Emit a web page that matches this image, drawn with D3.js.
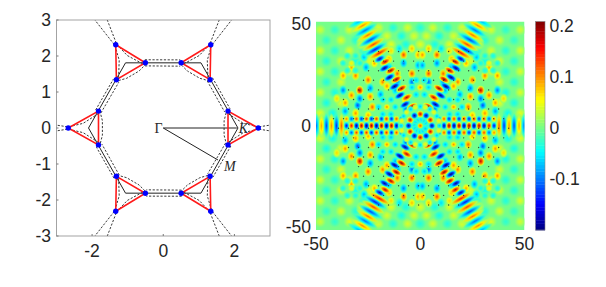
<!DOCTYPE html>
<html>
<head>
<meta charset="utf-8">
<script src="https://cdn.jsdelivr.net/npm/d3@7/dist/d3.min.js"></script>
<style>
body { margin: 0; background: #fff; }
text { font-family: "Liberation Sans", sans-serif; fill: #262626; }
</style>
</head>
<body>
<svg id="chart" width="606" height="287"></svg>
<script>
// left panel: band structure points, one sector, the rest rotated
var tickLeftX = [-2, 0, 2]
var tickLeftY = [-3, -2, -1, 0, 1, 2, 3]
var tipX = [-2.67, -1.82, -1.82]
var tipY = [0, 0.47, -0.47]
var hexX = [-2.1, -1.06, 1.06, 2.1, 1.06, -1.06]
var hexY = [0, 1.81, 1.81, 0, -1.81, -1.81]
var dashCurves = [
  [[-3.6, 0.17], [-3, 0.08], [-2.67, 0.03], [-2.25, 0.13], [-1.82, 0.4]],
  [[-3.6, -0.17], [-3, -0.08], [-2.67, -0.03], [-2.25, -0.13], [-1.82, -0.4]],
  [[-1.78, 0.47], [-1.71, 0.2], [-1.71, -0.2], [-1.78, -0.47]],
  [[-1.9, 0.5], [-1.4, 1.36]],
  [[-1.75, 0.42], [-1.25, 1.27]]
]
var gammaPath = [[0, 0], [2.07, 0]]
var mPath = [[0, 0], [1.54, -0.89]]

// right panel: blobs of the map, upper left quadrant, mirrored when drawn
var tickMapX = [-50, 0, 50]
var tickMapY = [-50, 0, 50]
var tickBar = [-0.1, 0, 0.1, 0.2]
var softX = [-48,-41,-34,-27, -45,-38,-31, -48,-41,-34,-27, -45,-38,-31,-24, -48,-41,-34, -45,-38, -48,-41, -45,-38, -48,-42, -20,-13,-6,0, -23,-16,-9,-3, -28,-21,-14,-7,0]
var softY = [46,46,46,46, 41,41,41, 36,36,36,36, 31,31,31,31, 26,26,26, 21,21, 16,16, 11,11, 6,6, 47,47,47,47, 43,43,43,43, 39,39,39,39,39]
var softV = [0.035,-0.03,0.04,-0.035, -0.03,0.04,-0.035, 0.04,-0.035,0.04,-0.04, -0.035,0.04,-0.04,0.045, 0.04,-0.035,0.04, -0.035,0.04, 0.04,-0.04, -0.04,0.045, 0.045,-0.045, 0.04,-0.035,0.04,-0.035, -0.04,0.04,-0.04,0.04, 0.04,-0.05,0.045,-0.04,0.045]
var innerX = [-8,-8,-1,-1,-15,-15,-22,-4,-11,-4,-11,-7,-7,-18,-25,-29,-33,-30,-36,-29,-24,-24,-37,-31,-23,-19,-16,-12,-26,-33,-37,-20,-27,-40,-36,-31,-25,-4,-10,-14]
var innerY = [34,30,34,29,32,28,30,25,25,21,21,12,8,21,22,17,14.6,9.8,11,13,14,18,17,24,9,15,19,17,28,28,24,33,33,13,7,6,5,37,37,36]
var innerV = [0.13,-0.1,0.1,-0.09,0.1,-0.09,0.09,0.13,0.12,-0.11,-0.1,0.1,-0.1,0.11,0.12,0.18,0.11,-0.12,0.1,-0.11,0.11,-0.1,-0.1,0.11,0.12,-0.09,0.1,-0.08,-0.09,0.09,0.1,0.08,-0.08,0.07,-0.09,0.1,0.09,0.08,-0.06,0.07]
var ringCx = [-16, 0, -33]
var ringCy = [9, 18.4, 30]
var centerR = [0, 2.8, 5.6, 5.6, 9.2, 9.2]
var centerV = [0.12, -0.07, 0.17, -0.18, -0.07, 0.06]
var centerN = [1, 12, 6, 6, 12, 12]
var centerA = [0, 0, 30, 0, 0, 15]
var armDist = [10,12.5,15,17.5,20,22.5,25,27.5,30,32.5,35,37.5,40,42.5,45,47.6,50.2,52.8,55.4,58]
var armVal = [0.19,-0.19,0.18,-0.2,0.2,-0.2,0.2,-0.2,0.19,-0.19,0.18,-0.17,0.15,-0.14,0.13,-0.12,0.11,-0.1,0.1,-0.08]
var armSide = [1.2,-1.2,1.2,-1.2,1.2,-1.2,1.2,-1.2,1,-1,0.8,-0.8,0.5,-0.5,0,0,0,0,0,0]
var rowDist = [9,11.4,13.8,16.2,18.6,21,23.4,25.8,28.2,30.6,33,35.4,37.8,40.2,42.6,45,47.4,49.8]
var rowVal = [0.16,-0.18,0.2,-0.2,0.2,-0.2,0.2,-0.2,0.19,-0.19,0.16,-0.15,0.12,-0.13,0.1,-0.12,0.09,-0.1]

var panelL = { left: 56.5, right: 270, top: 20, bottom: 236 }
var panelM = { left: 316, right: 524.5, top: 21.5, bottom: 230 }
var panelC = { left: 535.5, right: 545, top: 21.5, bottom: 230 }

var svg = d3.select("#chart")
var defs = svg.append("defs")

var x = d3.scaleLinear().domain([-3, 3]).range([panelL.left, panelL.right])
var y = d3.scaleLinear().domain([-3, 3]).range([panelL.bottom, panelL.top])
var mx = d3.scaleLinear().domain([-50, 50]).range([panelM.left, panelM.right])
var my = d3.scaleLinear().domain([-50, 50]).range([panelM.bottom, panelM.top])
var barY = d3.scaleLinear().domain([-0.2, 0.208]).range([panelC.bottom, panelC.top])

// jet
var jet = d3.scaleLinear()
  .domain([0, 0.125, 0.375, 0.625, 0.875, 1])
  .range(["#00007f", "#0000ff", "#00ffff", "#ffff00", "#ff0000", "#7f0000"])
  .clamp(true)
var frac = d3.scaleLinear().domain([-0.2, 0.208]).range([0, 1])
var color = v => jet(frac(v))

function gradient(v){
  var id = "g" + String(Math.round(v * 1000)).replace("-", "n")
  if(defs.select("#" + id).empty()){
    var g = defs.append("radialGradient").attr("id", id)
    g.append("stop").attr("offset", "0%").attr("stop-color", color(v))
    g.append("stop").attr("offset", "45%").attr("stop-color", color(v * 0.6))
    g.append("stop").attr("offset", "75%").attr("stop-color", color(v * 0.28)).attr("stop-opacity", 0.75)
    g.append("stop").attr("offset", "100%").attr("stop-color", color(v * 0.1)).attr("stop-opacity", 0)
  }
  return "url(#" + id + ")"
}

// left panel
function rotate(p, deg){
  var a = deg * Math.PI / 180
  return [p[0] * Math.cos(a) - p[1] * Math.sin(a), p[0] * Math.sin(a) + p[1] * Math.cos(a)]
}
var line = d3.line().x(d => x(d[0])).y(d => y(d[1]))
var sectors = [0, 60, 120, 180, 240, 300]

defs.append("clipPath").attr("id", "clipL").append("rect")
  .attr("x", panelL.left).attr("y", panelL.top)
  .attr("width", panelL.right - panelL.left).attr("height", panelL.bottom - panelL.top)
defs.append("clipPath").attr("id", "clipM").append("rect")
  .attr("x", panelM.left).attr("y", panelM.top)
  .attr("width", panelM.right - panelM.left).attr("height", panelM.bottom - panelM.top)

var left = svg.append("g").attr("clip-path", "url(#clipL)")

sectors.forEach(function(deg){
  dashCurves.forEach(function(c){
    left.append("path")
      .attr("d", line(c.map(p => rotate(p, deg))))
      .attr("fill", "none").attr("stroke", "#222").attr("stroke-width", 0.9).attr("stroke-dasharray", "2.2,1.6")
  })
})

left.append("path")
  .attr("d", line(hexX.map((d, i) => [d, hexY[i]])) + "Z")
  .attr("fill", "none").attr("stroke", "#222").attr("stroke-width", 1)
left.append("path").attr("d", line(gammaPath)).attr("fill", "none").attr("stroke", "#222").attr("stroke-width", 1)
left.append("path").attr("d", line(mPath)).attr("fill", "none").attr("stroke", "#222").attr("stroke-width", 1)

sectors.forEach(function(deg){
  var pts = tipX.map((d, i) => rotate([d, tipY[i]], deg))
  left.append("path")
    .attr("d", line(pts) + "Z")
    .attr("fill", "none").attr("stroke", "#ff1a1a").attr("stroke-width", 1.6)
})
sectors.forEach(function(deg){
  var pts = tipX.map((d, i) => rotate([d, tipY[i]], deg))
  left.selectAll(null).data(pts).enter().append("circle")
    .attr("cx", d => x(d[0])).attr("cy", d => y(d[1])).attr("r", 2.7).attr("fill", "#0000ff")
})

left.append("text").attr("x", x(-0.13)).attr("y", y(0) + 4.5).attr("text-anchor", "middle")
  .style("font-family", "'Liberation Serif', serif").style("font-size", "14px").text("Γ")
left.append("text").attr("x", x(2.25)).attr("y", y(0) + 5).attr("text-anchor", "middle")
  .style("font-family", "'Liberation Serif', serif").style("font-style", "italic").style("font-size", "14px").text("K")
left.append("text").attr("x", x(1.87)).attr("y", y(-1.05) + 5).attr("text-anchor", "middle")
  .style("font-family", "'Liberation Serif', serif").style("font-style", "italic").style("font-size", "14px").text("M")

// frame and ticks left
var frame = svg.append("g")
frame.append("rect").attr("x", panelL.left).attr("y", panelL.top)
  .attr("width", panelL.right - panelL.left).attr("height", panelL.bottom - panelL.top)
  .attr("fill", "none").attr("stroke", "#9a9a9a").attr("stroke-width", 0.9)

function axisText(g, items, fx, fy, anchor, fmt){
  g.selectAll(null).data(items).enter().append("text")
    .attr("x", fx).attr("y", fy).attr("text-anchor", anchor)
    .style("font-size", "17.5px").text(fmt)
}
axisText(frame, tickLeftX, d => x(d), 257, "middle", d => d)
axisText(frame, tickLeftY, 51, d => y(d) + 6, "end", d => d)
frame.selectAll(null).data(tickLeftX).enter().append("line")
  .attr("x1", d => x(d)).attr("x2", d => x(d)).attr("y1", panelL.bottom).attr("y2", panelL.bottom - 2).attr("stroke", "#777")
frame.selectAll(null).data(tickLeftY).enter().append("line")
  .attr("x1", panelL.left).attr("x2", panelL.left + 2).attr("y1", d => y(d)).attr("y2", d => y(d)).attr("stroke", "#777")

// map
var map = svg.append("g").attr("clip-path", "url(#clipM)")
map.append("rect").attr("x", panelM.left).attr("y", panelM.top)
  .attr("width", panelM.right - panelM.left).attr("height", panelM.bottom - panelM.top)
  .attr("fill", color(0))

function blob(px, py, v, long, short, deg){
  map.append("ellipse")
    .attr("transform", `translate(${mx(px)},${my(py)})rotate(${deg})`)
    .attr("rx", mx(long) - mx(0)).attr("ry", mx(short) - mx(0))
    .attr("fill", gradient(v))
}
function mirrored(px, py, v, long, short){
  ;[1, -1].forEach(function(sx){
    ;[1, -1].forEach(function(sy){
      blob(px * sx, py * sy, v, long, short, 0)
    })
  })
}

softX.forEach((d, i) => mirrored(d, softY[i], softV[i], 3, 3))
innerX.forEach((d, i) => mirrored(d, innerY[i], innerV[i], 2.1, 2.6))

ringCx.forEach(function(cx, i){
  var s = i == 2 ? 0.6 : 1
  mirrored(cx, ringCy[i], 0.1 * s, 1.8, 1.8)
  d3.range(6).forEach(function(k){
    var a = k * Math.PI / 3
    mirrored(cx + 4 * Math.cos(a), ringCy[i] + 4 * Math.sin(a), -0.07 * s, 1.9, 1.9)
  })
})

// horizontal arm
rowDist.forEach(function(d, i){
  var v = rowVal[i]
  ;[1, -1].forEach(function(sx){
    if(d < 36){
      blob(-d * sx, 0, v, 1.5, 2.1, 0)
      blob(-d * sx, 3.3, -v * 0.7, 1.5, 1.7, 0)
      blob(-d * sx, -3.3, -v * 0.7, 1.5, 1.7, 0)
    } else {
      blob(-d * sx, 0, v, 1.5, 6.5, 0)
    }
  })
})

// diagonal arms
;[60, 120, 240, 300].forEach(function(deg){
  var a = deg * Math.PI / 180
  armDist.forEach(function(d, i){
    var flip = deg == 60 || deg == 240 ? 1 : -1
    var side = armSide[i] * flip
    var px = d * Math.cos(a) - side * Math.sin(a)
    var py = d * Math.sin(a) + side * Math.cos(a)
    var long = d > 38 ? 7 : 3.2
    blob(px, py, armVal[i], long, 1.55, -deg + 90)
  })
})

// middle rosette
centerR.forEach(function(r, i){
  d3.range(centerN[i]).forEach(function(k){
    var a = (centerA[i] + k * 360 / centerN[i]) * Math.PI / 180
    blob(r * Math.cos(a), r * Math.sin(a), centerV[i], r > 8 ? 1.6 : 1.9, r > 8 ? 1.6 : 1.9, 0)
  })
})

// lattice dots on the map, kept to the hexagon
var dotRows = d3.range(-38, 39, 4.6)
dotRows.forEach(function(v, r){
  d3.range(-44, 45, 4.8).forEach(function(u){
    var ux = u + (r % 2 ? 2.4 : 0)
    var inside = Math.abs(ux) * 0.866 + Math.abs(v) * 0.5 < 38.5
    var rad = Math.hypot(ux, v)
    if(inside && rad > 20){
      map.append("circle").attr("cx", mx(ux)).attr("cy", my(v)).attr("r", 0.7).attr("fill", "#222").attr("opacity", 0.8)
    }
  })
})

axisText(svg, tickMapX, d => mx(d), 250, "middle", d => d)
axisText(svg, tickMapY, 311, d => my(d) + 6 + (d == 50 ? 2 : d == -50 ? -3 : 0), "end", d => d)

// colorbar
var steps = d3.range(64)
var stepH = (panelC.bottom - panelC.top) / 64
svg.append("g").selectAll("rect").data(steps).enter().append("rect")
  .attr("x", panelC.left).attr("width", panelC.right - panelC.left)
  .attr("y", d => panelC.bottom - (d + 1) * stepH).attr("height", stepH + 0.4)
  .attr("fill", d => jet((d + 0.5) / 64))
svg.append("rect").attr("x", panelC.left).attr("y", panelC.top)
  .attr("width", panelC.right - panelC.left).attr("height", panelC.bottom - panelC.top)
  .attr("fill", "none").attr("stroke", "#888").attr("stroke-width", 0.6)
axisText(svg, tickBar, 549.5, d => barY(d) + 6, "start", d => d)
</script>
</body>
</html>
